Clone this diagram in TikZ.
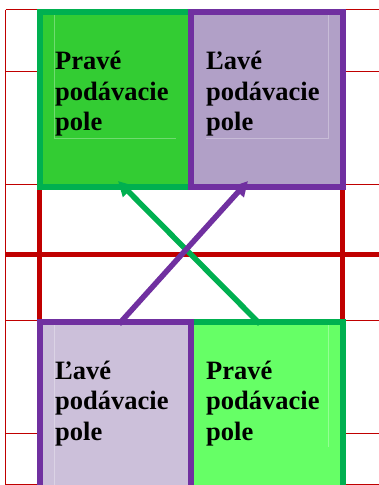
\documentclass[tikz,border=0pt]{standalone}
\usepackage{fontspec}
\setmainfont{Liberation Serif}
\usetikzlibrary{arrows.meta}
\definecolor{bordgreen}{HTML}{00B050}
\definecolor{bordpurple}{HTML}{7030A0}
\definecolor{filltl}{HTML}{33CC33}
\definecolor{filltr}{HTML}{B1A0C7}
\definecolor{fillbl}{HTML}{CCC0DA}
\definecolor{fillbr}{HTML}{66FF66}
\definecolor{courtred}{HTML}{C00000}
\tikzset{
  thinline/.style={draw=courtred, line width=1pt},
  thickline/.style={draw=courtred, line width=5pt},
  fieldbox/.style={line width=6pt},
  faintline/.style={draw=white, opacity=0.3, line width=0.8pt},
  fieldtext/.style={anchor=north west, inner sep=0pt, align=left, font=\fontsize{26.5}{30.5}\selectfont\bfseries},
  swaparrow/.style={line width=5.5pt, -{Triangle[length=15pt,width=15pt]}},
}
\begin{document}
\begin{tikzpicture}[x=1pt,y=-1pt]
\useasboundingbox (0,0) rectangle (379,485);
% thin court lines
\foreach \yy in {9.5,71,184.5,320,433.5,484.3}
  \draw[thinline] (5.5,\yy) -- (379,\yy);
\draw[thinline] (5.5,9.5) -- (5.5,485);
% thick court lines
\draw[thickline] (39.5,150) -- (39.5,340);
\draw[thickline] (342.5,150) -- (342.5,340);
\draw[thickline] (5.5,254) -- (379,254);
% top boxes
\draw[fieldbox, draw=bordgreen, fill=filltl] (39.7,12) rectangle (191,186.5);
\draw[fieldbox, draw=bordpurple, fill=filltr] (191,12) rectangle (342.8,186.5);
% bottom boxes
\draw[fieldbox, draw=bordgreen, fill=fillbr] (191,321.7) rectangle (342.8,488);
\draw[fieldbox, draw=bordpurple, fill=fillbl] (39.7,321.7) rectangle (191,488);
% faint text frame lines
\draw[faintline] (54.5,15) -- (54.5,138) -- (176,138);
\draw[faintline] (206,138) -- (328,138) -- (328,15);
\draw[faintline] (54.5,325) -- (54.5,485);
\draw[faintline] (328,325) -- (328,447);
% texts
\node[fieldtext] (tl) at (55,51.2) {Pravé\\podávacie\\pole};
\node[fieldtext] (tr) at (206,51.2) {Ľavé\\podávacie\\pole};
\node[fieldtext] (bl) at (55,360.5) {Ľavé\\podávacie\\pole};
\node[fieldtext] (br) at (206,360.5) {Pravé\\podávacie\\pole};
% arrows
\coordinate (gs) at (260,324);
\coordinate (ge) at (118,181);
\coordinate (ps) at (119,324);
\coordinate (pe) at (248,181);
\draw[swaparrow, draw=bordgreen, fill=bordgreen] (gs) -- (ge);
\draw[swaparrow, draw=bordpurple, fill=bordpurple] (ps) -- (pe);
\end{tikzpicture}
\end{document}
